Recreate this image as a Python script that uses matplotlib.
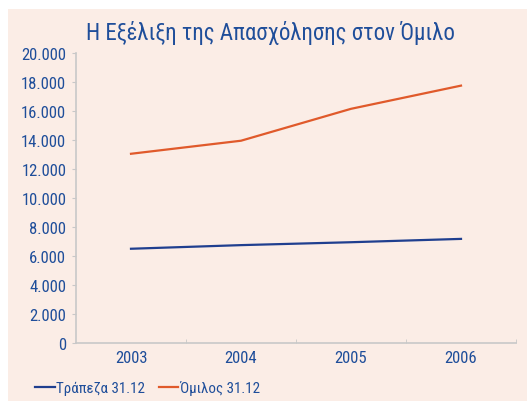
import matplotlib
matplotlib.use('Agg')
import matplotlib.pyplot as plt
from matplotlib.patches import Rectangle
from matplotlib.ticker import FuncFormatter

# δεδομένα
years = ['2003', '2004', '2005', '2006']
bank = [6500, 6750, 6950, 7180]
group = [13050, 13950, 16150, 17750]
title = 'Η Εξέλιξη της Απασχόλησης στον Όμιλο'

plt.rcParams['font.family'] = ['Roboto Condensed', 'DejaVu Sans']

txt = '#1f4e9a'
bg = '#fbede6'

fig = plt.figure(figsize=(5.27, 4.02), dpi=100, facecolor='white')
fig.patches.append(Rectangle((8 / 527, 0), 1, 1 - 10 / 402, transform=fig.transFigure,
                             facecolor=bg, edgecolor='none', zorder=-10))

ax = fig.add_axes([76 / 527, 58 / 402, 440 / 527, 290 / 402])
ax.patch.set_visible(False)

x = range(len(years))
l1, = ax.plot(x, bank, color='#1f3f8f', lw=1.6, label='Τράπεζα 31.12')
l2, = ax.plot(x, group, color='#e05a2b', lw=1.6, label='Όμιλος 31.12')

ax.set_xlim(-0.5, 3.5)
ax.set_ylim(0, 20000)
ax.set_yticks(range(0, 20001, 2000))
ax.yaxis.set_major_formatter(FuncFormatter(lambda v, p: f'{int(v):,}'.replace(',', '.')))
ax.set_xticks(list(x))
ax.set_xticklabels(years)
ax.set_xticks([0.5, 1.5, 2.5, 3.5], minor=True)

for s in ['top', 'right']:
    ax.spines[s].set_visible(False)
for s in ['left', 'bottom']:
    ax.spines[s].set_color('#c8c8c8')
    ax.spines[s].set_linewidth(1.2)

ax.tick_params(axis='y', colors='#c8c8c8', labelcolor=txt, labelsize=12, length=3, pad=4)
ax.tick_params(axis='x', which='major', length=0, labelcolor=txt, labelsize=12, pad=5)
ax.tick_params(axis='x', which='minor', direction='in', length=3, color='#c8c8c8')

fig.text(270 / 527, 1 - 33 / 402, title, ha='center', va='center', color=txt, fontsize=16.5)

fig.legend(handles=[l1, l2], loc='center left', bbox_to_anchor=(35 / 527, 1 - 389 / 402),
           ncol=2, frameon=False, fontsize=10.8, labelcolor=txt, handlelength=1.3,
           handletextpad=0.1, columnspacing=0.9, borderaxespad=0, borderpad=0)

fig.savefig('out.png', dpi=100)
